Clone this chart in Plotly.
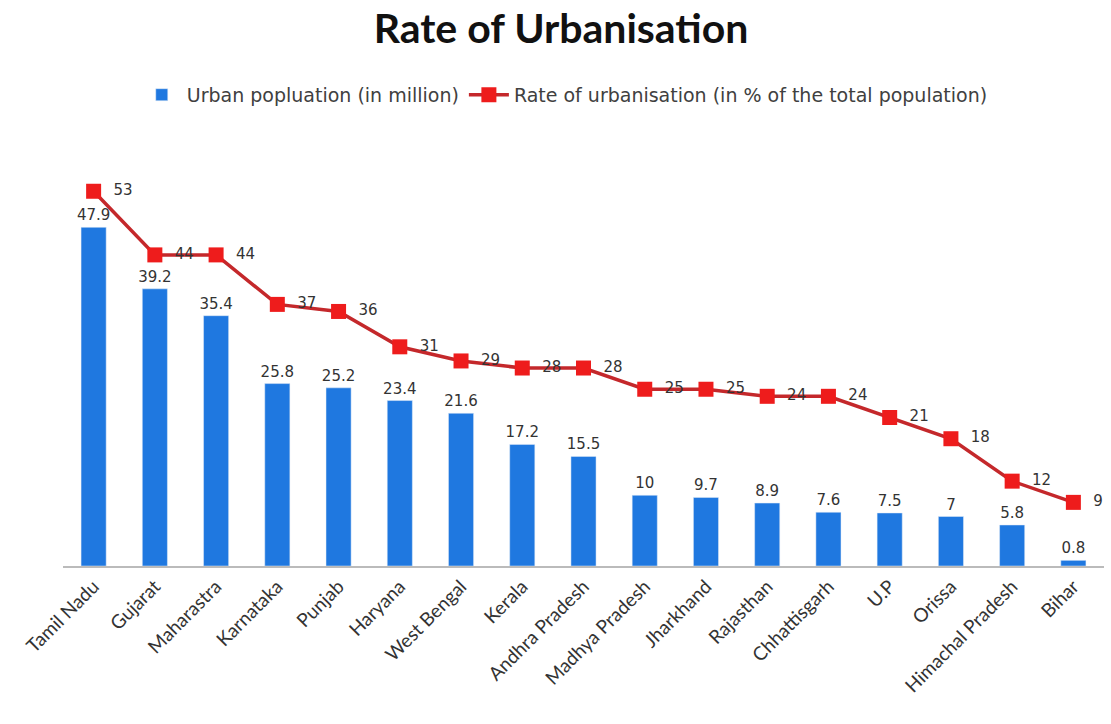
import plotly.graph_objects as go

states = ["Tamil Nadu", "Gujarat", "Maharastra", "Karnataka", "Punjab", "Haryana",
          "West Bengal", "Kerala", "Andhra Pradesh", "Madhya Pradesh", "Jharkhand",
          "Rajasthan", "Chhattisgarh", "U.P", "Orissa", "Himachal Pradesh", "Bihar"]
urban_pop = [47.9, 39.2, 35.4, 25.8, 25.2, 23.4, 21.6, 17.2, 15.5, 10, 9.7, 8.9, 7.6, 7.5, 7, 5.8, 0.8]
urban_rate = [53, 44, 44, 37, 36, 31, 29, 28, 28, 25, 25, 24, 24, 21, 18, 12, 9]

num_font = dict(family="DejaVu Sans", size=15, color="#333333")

fig = go.Figure()
fig.add_trace(go.Bar(
    x=states, y=urban_pop, name="Urban popluation (in million)",
    marker=dict(color="#1F78E0"), width=0.41,
    text=[f"{v:g}" for v in urban_pop], textposition="outside",
    textfont=num_font, cliponaxis=False, constraintext="none",
))
fig.add_trace(go.Scatter(
    x=states, y=urban_rate, name="Rate of urbanisation (in % of the total population)",
    mode="lines+markers+text",
    line=dict(color="#C4282B", width=3.5),
    marker=dict(symbol="square", size=15, color="#EE1C1C"),
    text=[f"\u00a0\u00a0{v:g}" for v in urban_rate], textposition="middle right",
    textfont=num_font, cliponaxis=False,
))

fig.update_layout(
    width=1111, height=724,
    margin=dict(l=63, r=7, t=140, b=158),
    paper_bgcolor="white", plot_bgcolor="white",
    title=dict(text="<b>Rate of Urbanisation</b>", x=0.505, xanchor="center", y=0.961, yanchor="middle",
               font=dict(family="Lato", size=41, color="#111111")),
    legend=dict(orientation="h", x=0.482, xanchor="center", y=1.106, yanchor="middle",
                font=dict(family="DejaVu Sans", size=19, color="#404040"),
                itemwidth=40, tracegroupgap=0),
    showlegend=True,
)
fig.update_xaxes(showline=True, linecolor="#BBBBBB", linewidth=2, ticks="",
                 tickangle=-45, tickfont=dict(family="Lato", size=19, color="#333333"),
                 showgrid=False, automargin=False, range=[-0.5, len(states) - 0.5])
fig.update_yaxes(range=[0, 60.25], visible=False, showgrid=False, automargin=False)

fig.write_html("out.html")
